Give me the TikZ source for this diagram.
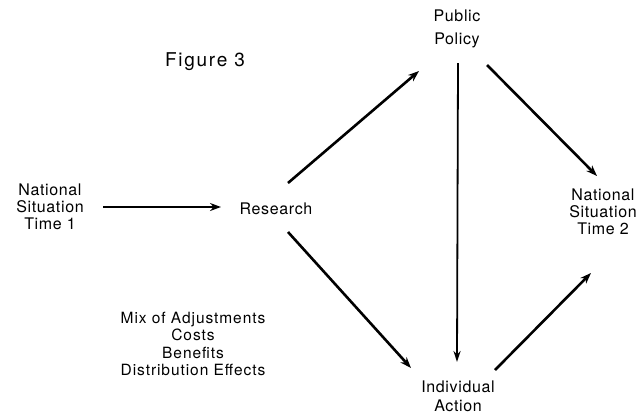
\documentclass[tikz,border=0pt]{standalone}
\usepackage{fontspec}
\setmainfont{TeX Gyre Heros}[LetterSpace=4]
\usetikzlibrary{arrows.meta}
\begin{document}
\begin{tikzpicture}[x=1pt,y=-1pt,
  lbl/.style={align=center,font=\fontsize{16}{17}\selectfont,inner sep=1pt},
  arr/.style={line width=2.6pt,-{Stealth[length=11pt,width=8pt]}},
  thinarr/.style={line width=1.8pt,-{Stealth[length=11pt,width=7pt]}}]
\useasboundingbox (0,0) rectangle (640,416);
\node[lbl,font=\fontsize{19}{22}\selectfont\addfontfeature{LetterSpace=9}] (fig) at (205,62) {Figure 3};
\node[lbl] (nst1) at (50,207) {National\\Situation\\Time 1};
\node[lbl] (res) at (276,209) {Research};
\node[lbl,font=\fontsize{16}{23}\selectfont] (pp) at (457,29) {Public\\Policy};
\node[lbl] (nst2) at (603,212) {National\\Situation\\Time 2};
\node[lbl,font=\fontsize{16}{19}\selectfont] (ia) at (458,396) {Individual\\Action};
\node[lbl,font=\fontsize{15.5}{17.5}\selectfont\addfontfeature{LetterSpace=6}] (mix) at (193,344) {Mix of Adjustments\\Costs\\Benefits\\Distribution Effects};
\coordinate (a1) at (103,207);
\coordinate (a2) at (221,207);
\coordinate (b1) at (288,183);
\coordinate (b2) at (419,71);
\coordinate (c1) at (288,232);
\coordinate (c2) at (411,368);
\coordinate (d1) at (458,63);
\coordinate (d2) at (457,362);
\coordinate (e1) at (487,65);
\coordinate (e2) at (597,176);
\coordinate (f1) at (495,370);
\coordinate (f2) at (591,273);
\draw[arr] (a1) -- (a2);
\draw[arr] (b1) -- (b2);
\draw[arr] (c1) -- (c2);
\draw[thinarr] (d1) -- (d2);
\draw[arr] (e1) -- (e2);
\draw[arr] (f1) -- (f2);
\end{tikzpicture}
\end{document}
